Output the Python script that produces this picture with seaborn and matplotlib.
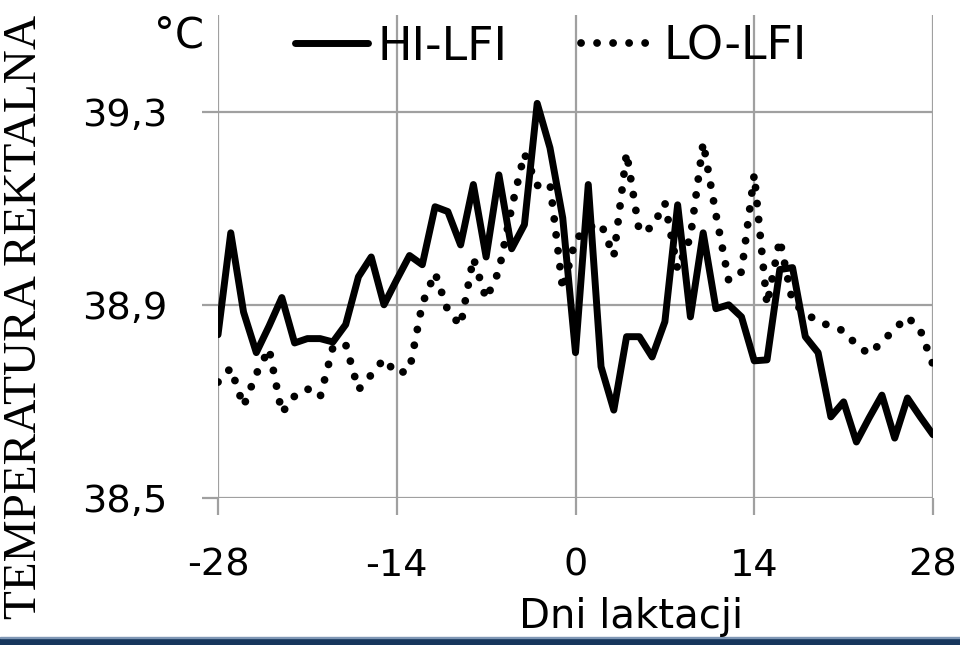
import matplotlib
matplotlib.use("Agg")
import matplotlib.pyplot as plt
import seaborn as sns
import pandas as pd
from matplotlib.patches import Rectangle

# days of lactation, -28 .. 28
days = list(range(-28, 29))

# rectal temperature, high LFI group (solid line)
hi_lfi = [38.838, 39.049, 38.885, 38.801, 38.856, 38.915, 38.821, 38.830, 38.830, 38.823,
          38.859, 38.958, 38.999, 38.900, 38.952, 39.002, 38.983, 39.103, 39.093, 39.024,
          39.149, 38.999, 39.169, 39.016, 39.066, 39.317, 39.225, 39.080, 38.801, 39.149,
          38.772, 38.682, 38.834, 38.834, 38.792, 38.865, 39.107, 38.875, 39.049, 38.892,
          38.900, 38.875, 38.784, 38.786, 38.973, 38.977, 38.834, 38.801, 38.668, 38.699,
          38.616, 38.666, 38.713, 38.624, 38.707, 38.668, 38.631]

# rectal temperature, low LFI group (dotted line)
lo_lfi = [38.740, 38.769, 38.690, 38.757, 38.809, 38.676, 38.711, 38.726, 38.709, 38.812,
          38.818, 38.724, 38.755, 38.788, 38.757, 38.765, 38.902, 38.966, 38.888, 38.857,
          38.997, 38.912, 38.970, 39.101, 39.213, 39.147, 39.151, 38.931, 39.035, 39.060,
          39.068, 39.000, 39.215, 39.051, 39.060, 39.111, 38.973, 39.040, 39.236, 39.087,
          38.950, 38.968, 39.170, 38.900, 39.035, 38.906, 38.883, 38.865, 38.856, 38.846,
          38.817, 38.798, 38.823, 38.850, 38.875, 38.848, 38.776]

x_ticks = [-28, -14, 0, 14, 28]
y_ticks = [38.5, 38.9, 39.3]
y_tick_labels = ["38,5", "38,9", "39,3"]

df = pd.DataFrame({"day": days, "HI-LFI": hi_lfi, "LO-LFI": lo_lfi})

sns.set_style("white")
plt.rcParams["font.family"] = ["DejaVu Sans"]
plt.rcParams["axes.unicode_minus"] = False
plt.rcParams["text.color"] = "black"
plt.rcParams["xtick.labelcolor"] = "black"
plt.rcParams["ytick.labelcolor"] = "black"

fig = plt.figure(figsize=(9.6, 6.45), dpi=100)
ax = fig.add_axes([218 / 960, 1 - 498 / 645, 715 / 960, 483 / 645])

sns.lineplot(data=df, x="day", y="HI-LFI", ax=ax, color="black", lw=5.0,
             label="HI-LFI", zorder=3)
sns.lineplot(data=df, x="day", y="LO-LFI", ax=ax, color="black", lw=5.6,
             label="LO-LFI", zorder=3)
dotted = ax.lines[1]
dotted.set_linestyle((0, (0.01, 2.05)))
dotted.set_dash_capstyle("round")
ax.lines[0].set_solid_capstyle("round")

ax.set_xlim(-28, 28)
ax.set_ylim(38.5, 39.5)
ax.set_xticks(x_ticks)
ax.set_yticks(y_ticks)
ax.set_yticklabels(y_tick_labels)
ax.set_xlabel("")
ax.set_ylabel("")

grid_col = "#a0a0a0"
ax.grid(True, color=grid_col, lw=1.6)
ax.set_axisbelow(True)
for s in ax.spines.values():
    s.set_visible(False)
ax.tick_params(axis="x", length=12, width=1.6, color=grid_col, pad=24,
               labelsize=27.5, direction="out", bottom=True, labelcolor="black")
ax.tick_params(axis="y", length=11.5, width=1.6, color=grid_col, pad=25,
               labelsize=27.5, direction="out", left=True, labelcolor="black")

leg = ax.legend(loc="center", bbox_to_anchor=(551 / 960, 1 - 47 / 645),
                bbox_transform=fig.transFigure, ncol=2, frameon=False,
                fontsize=33, handlelength=1.6, handletextpad=0.2,
                columnspacing=1.6, borderpad=0, borderaxespad=0)
for t in leg.get_texts():
    t.set_color("black")

fig.text(179 / 960, 1 - 36 / 645, "°C", fontsize=30, ha="center", va="center",
         color="black")
fig.text(631 / 960, 1 - 617 / 645, "Dni laktacji", fontsize=29,
         ha="center", va="center", zorder=5, color="black")
fig.text(25 / 960, 1 - 317 / 645, "TEMPERATURA REKTALNA", rotation=90,
         fontsize=34, family="Liberation Serif", ha="center", va="center",
         color="black")

# dark bar along the bottom edge
fig.patches.append(Rectangle((0, 0), 1, 7 / 645, transform=fig.transFigure,
                             color="#16365c", zorder=1))
fig.patches.append(Rectangle((0, 7 / 645), 1, 1.5 / 645, transform=fig.transFigure,
                             color="#7f97b5", zorder=1))

fig.savefig("out.png", dpi=100)
